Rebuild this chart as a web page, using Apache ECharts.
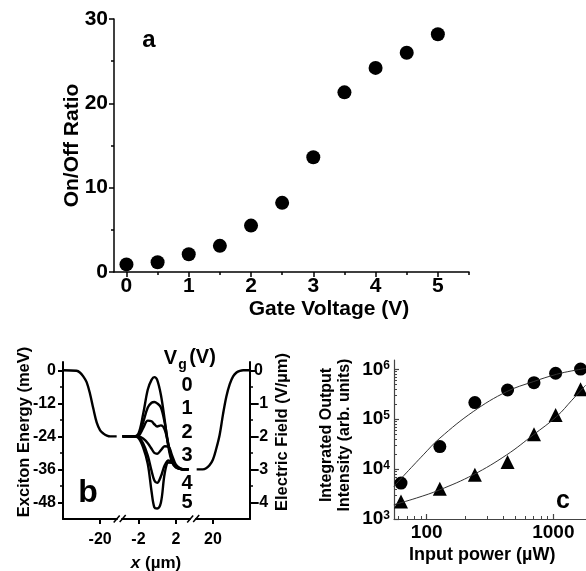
<!DOCTYPE html>
<html><head><meta charset="utf-8">
<script src="https://cdn.jsdelivr.net/npm/echarts@6/dist/echarts.min.js"></script>
<style>html,body{margin:0;padding:0;background:#fff}#c{width:586px;height:571px}</style>
</head><body><div id="c"></div>
<script>
// ---------- Panel a ----------
const gateVoltage = [0, 0.5, 1, 1.5, 2, 2.5, 3, 3.5, 4, 4.5, 5];
const onOffRatio  = [0.9, 1.15, 2.1, 3.1, 5.5, 8.2, 13.6, 21.3, 24.2, 26.0, 28.2];
const aXTicks = [0, 1, 2, 3, 4, 5];
const aXMinor = [0.5, 1.5, 2.5, 3.5, 4.5, 5.5];
const aYTicks = [0, 10, 20, 30];
const aYMinor = [5, 15, 25];

// ---------- Panel b ----------
const bLeftX  = [-31, -27, -26, -25, -24, -23, -22, -21, -20, -19, -18, -17, -15.1];
const bLeftE  = [0, -0.2, -0.8, -2.2, -4.3, -8.5, -14, -19, -21.8, -23, -23.7, -24, -24];
const bRightX = [15.2, 17, 18, 19, 20, 21, 22, 23, 24, 25, 26, 27, 28, 29, 31];
const bRightE = [-36, -36, -35.6, -34.5, -32.5, -28.5, -23.5, -16, -9.5, -5, -2.2, -0.8, -0.2, 0, 0];
const bCenterX = [-3.7, -3, -2.5, -2, -1.5, -1, -0.6, -0.3, 0, 0.4, 0.8, 1.2, 1.6, 2, 2.5, 3, 3.35];
const vgNames = ['0', '1', '2', '3', '4', '5'];
const bVg0 = [-24, -24, -24, -23, -16, -7, -3.5, -2.5, -3.5, -9, -18, -28, -33.5, -35.3, -35.9, -36, -36];
const bVg1 = [-24, -24, -24, -23.5, -19, -13.5, -11.8, -11.5, -12, -13.5, -19, -27, -33, -35.2, -35.9, -36, -36];
const bVg2 = [-24, -24, -24, -23.8, -21, -18.3, -18.5, -19.6, -20.4, -20, -21.5, -27, -32, -34.8, -35.8, -36, -36];
const bVg3 = [-24, -24, -24, -24, -24.8, -26.5, -28.5, -30, -30.3, -29, -27.6, -27.8, -31, -34.3, -35.7, -36, -36];
const bVg4 = [-24, -24, -24, -24.3, -26.5, -31, -36.5, -40, -40.9, -38.5, -34.5, -32.7, -33.5, -35, -35.8, -36, -36];
const bVg5 = [-24, -24, -24, -24.6, -28, -34, -44, -49.8, -50.2, -48, -37.5, -33.5, -33.6, -34.8, -35.8, -36, -36];
const bCurves = [bVg0, bVg1, bVg2, bVg3, bVg4, bVg5];
const bEnergyTicks = [0, -12, -24, -36, -48];
const bEnergyMinor = [-6, -18, -30, -42];
const bFieldTicks = [0, -1, -2, -3, -4];
const bFieldMinor = [-0.5, -1.5, -2.5, -3.5];
const bLeftXTicks = [-20];
const bCenterXTicks = [-2, 2];
const bRightXTicks = [20];

// ---------- Panel c ----------
const inputPower = [62.7, 127, 240, 435, 703, 1042, 1640];
const circleIntensity = [5250, 28300, 215000, 385000, 540000, 832000, 1010000];
const triangleIntensity = [2250, 4040, 7690, 13800, 50100, 122000, 398000];
const circleFitX = [55, 94, 127, 233, 428, 694, 1061, 1400, 1800];
const circleFitY = [4500, 19300, 41700, 142000, 357000, 565000, 794000, 930000, 1040000];
const triFitX = [55, 83, 127, 233, 428, 694, 1061, 1400, 1800];
const triFitY = [1930, 2630, 3850, 7700, 19300, 48500, 113000, 240000, 480000];
const cXTicks = [100, 1000];
const cXMinor = [60, 70, 80, 90, 200, 300, 400, 500, 600, 700, 800, 900, 2000];
const cYTicks = [1e3, 1e4, 1e5, 1e6];
const cYMinor = [2e3,3e3,4e3,5e3,6e3,7e3,8e3,9e3,2e4,3e4,4e4,5e4,6e4,7e4,8e4,9e4,2e5,3e5,4e5,5e5,6e5,7e5,8e5,9e5];

// ---------- layout ----------
const FONT = '"Liberation Sans", Arial, Helvetica, sans-serif';
const BLACK = '#000';
const gA = {left: 114, top: 19, width: 355, height: 253};
const bTop = 362, bH = 157;
const gBL = {left: 63, top: bTop, width: 54, height: bH};
const gBC = {left: 122, top: bTop, width: 68, height: bH};
const gBR = {left: 196, top: bTop, width: 54, height: bH};
const gC = {left: 394, top: 360, width: 197.5, height: 159};

function grid(g) {
  return Object.assign({containLabel: false, outerBoundsMode: 'none', show: false}, g);
}
function txt(size, extra) {
  return Object.assign({fontFamily: FONT, fontWeight: 'bold', fontSize: size, color: BLACK}, extra || {});
}
function mainAxis(o) {
  const a = {
    type: o.type || 'value', gridIndex: o.grid, min: o.min, max: o.max, position: o.position,
    splitLine: {show: false},
    axisLine: {show: true, onZero: false, lineStyle: {color: o.lineColor || BLACK, width: o.lineWidth || 1.5}},
    axisTick: {show: true, inside: !!o.inside, length: 5, customValues: o.ticks, lineStyle: {color: o.lineColor || BLACK, width: o.lineWidth || 1.5}},
    axisLabel: Object.assign({show: true, customValues: o.ticks, margin: o.margin, formatter: o.formatter || (v => String(v))}, txt(o.fontSize, o.labelExtra)),
  };
  if (o.name) {
    a.name = o.name; a.nameLocation = 'middle'; a.nameGap = o.nameGap; a.nameMoveOverlap = false;
    a.nameTextStyle = txt(o.nameSize, o.nameExtra);
  }
  return a;
}
function minorAxis(o) {
  return {
    type: o.type || 'value', gridIndex: o.grid, min: o.min, max: o.max, position: o.position,
    splitLine: {show: false},
    axisLine: {show: false, onZero: false},
    axisTick: {show: true, inside: !!o.inside, length: 3, customValues: o.ticks, lineStyle: {color: o.lineColor || BLACK, width: o.lineWidth || 1.5}},
    axisLabel: {show: false}
  };
}
function hiddenAxis(o) {
  return {type: 'value', gridIndex: o.grid, min: o.min, max: o.max, show: false, axisLine: {onZero: false}};
}

const supFmt = v => '{b|10}{s|' + Math.round(Math.log10(v)) + '}';

const xAxis = [
  mainAxis({grid: 0, min: -0.2, max: 5.5, position: 'bottom', ticks: aXTicks, fontSize: 21, margin: 4,
    name: 'Gate Voltage (V)', nameGap: 27, nameSize: 21, nameExtra: {padding: [0, 0, 0, 75]}}),
  minorAxis({grid: 0, min: -0.2, max: 5.5, position: 'bottom', ticks: aXMinor}),
  mainAxis({grid: 1, min: -31, max: -15, position: 'bottom', ticks: bLeftXTicks, fontSize: 16, margin: 13, lineWidth: 2}),
  mainAxis({grid: 2, min: -3.75, max: 3.5, position: 'bottom', ticks: bCenterXTicks, fontSize: 16, margin: 13, lineWidth: 2,
    name: '{i|x} (µm)', nameGap: 36, nameSize: 17,
    nameExtra: {rich: {i: {fontFamily: FONT, fontWeight: 'bold', fontStyle: 'italic', fontSize: 17, color: BLACK}}}}),
  mainAxis({grid: 3, min: 15, max: 31, position: 'bottom', ticks: bRightXTicks, fontSize: 16, margin: 13, lineWidth: 2}),
  mainAxis({type: 'log', grid: 4, min: 55.2, max: 2000, position: 'bottom', ticks: cXTicks, inside: true, fontSize: 19, margin: 4,
    lineColor: '#444', lineWidth: 1.2,
    name: 'Input power (µW)', nameGap: 27, nameSize: 18, nameExtra: {padding: [0, 21, 0, 0]}}),
  minorAxis({type: 'log', grid: 4, min: 55.2, max: 2000, position: 'bottom', ticks: cXMinor, inside: true, lineColor: '#444', lineWidth: 1})
];

const yAxis = [
  mainAxis({grid: 0, min: 0, max: 30, position: 'left', ticks: aYTicks, fontSize: 21, margin: 6,
    name: 'On/Off Ratio', nameGap: 31, nameSize: 21}),
  minorAxis({grid: 0, min: 0, max: 30, position: 'left', ticks: aYMinor}),
  mainAxis({grid: 1, min: -54, max: 3, position: 'left', ticks: bEnergyTicks, fontSize: 16, margin: 7, lineWidth: 2,
    name: 'Exciton Energy (meV)', nameGap: 30, nameSize: 16.5, nameExtra: {padding: [0, 0, 0, 17]}}),
  minorAxis({grid: 1, min: -54, max: 3, position: 'left', ticks: bEnergyMinor, lineWidth: 1.5}),
  hiddenAxis({grid: 2, min: -54, max: 3}),
  hiddenAxis({grid: 3, min: -54, max: 3}),
  mainAxis({grid: 3, min: -4.5, max: 0.25, position: 'right', ticks: bFieldTicks, fontSize: 16, margin: 4, lineWidth: 2,
    name: 'Electric Field (V/µm)', nameGap: 24, nameSize: 16.5, nameExtra: {padding: [0, 0, 0, 17]}}),
  minorAxis({grid: 3, min: -4.5, max: 0.25, position: 'right', ticks: bFieldMinor, lineWidth: 1.5}),
  mainAxis({type: 'log', grid: 4, min: 1000, max: 1.535e6, position: 'left', ticks: cYTicks, inside: true, fontSize: 19, margin: 4,
    lineColor: '#444', lineWidth: 1.2, formatter: supFmt,
    labelExtra: {rich: {b: {fontFamily: FONT, fontWeight: 'bold', fontSize: 19, color: BLACK},
                         s: {fontFamily: FONT, fontWeight: 'bold', fontSize: 12, color: BLACK, verticalAlign: 'top', lineHeight: 12}}},
    name: 'Integrated Output\nIntensity (arb. units)', nameGap: 40, nameSize: 16, nameExtra: {lineHeight: 18, padding: [0, 0, 0, 9]}}),
  minorAxis({type: 'log', grid: 4, min: 1000, max: 1.535e6, position: 'left', ticks: cYMinor, inside: true, lineColor: '#444', lineWidth: 1})
];

const zip = (xs, ys) => xs.map((x, i) => [x, ys[i]]);
const lineStyleB = {color: BLACK, width: 2.4};
const dot = {color: BLACK, opacity: 1};

const series = [
  {type: 'scatter', name: 'On/Off', xAxisIndex: 0, yAxisIndex: 0, data: zip(gateVoltage, onOffRatio),
   symbol: 'circle', symbolSize: 14, itemStyle: dot},
  {type: 'line', name: 'left', xAxisIndex: 2, yAxisIndex: 2, data: zip(bLeftX, bLeftE), showSymbol: false, smooth: 0.35, lineStyle: lineStyleB},
  {type: 'line', name: 'right', xAxisIndex: 4, yAxisIndex: 5, data: zip(bRightX, bRightE), showSymbol: false, smooth: 0.35, lineStyle: lineStyleB},
].concat(bCurves.map((c, i) => ({
  type: 'line', name: 'Vg ' + vgNames[i], xAxisIndex: 3, yAxisIndex: 4, data: zip(bCenterX, c),
  showSymbol: false, smooth: 0.35, lineStyle: lineStyleB
}))).concat([
  {type: 'line', name: 'circle fit', xAxisIndex: 5, yAxisIndex: 8, data: zip(circleFitX, circleFitY), showSymbol: false, smooth: 0.4,
   lineStyle: {color: '#333', width: 1}},
  {type: 'line', name: 'triangle fit', xAxisIndex: 5, yAxisIndex: 8, data: zip(triFitX, triFitY), showSymbol: false, smooth: 0.4,
   lineStyle: {color: '#333', width: 1}},
  {type: 'scatter', name: 'circles', xAxisIndex: 5, yAxisIndex: 8, data: zip(inputPower, circleIntensity), symbol: 'circle', symbolSize: 13,
   itemStyle: dot, clip: false},
  {type: 'scatter', name: 'triangles', xAxisIndex: 5, yAxisIndex: 8, data: zip(inputPower, triangleIntensity), symbol: 'triangle', symbolSize: 14,
   itemStyle: dot, clip: false}
]);

// decorations: axis-break slashes, panel letters, Vg legend
const graphic = [];
function slash(cx, cy) {
  graphic.push({type: 'line', shape: {x1: cx - 3, y1: cy + 3.5, x2: cx + 3, y2: cy - 3.5}, style: {stroke: BLACK, lineWidth: 1.5}});
}
const bBottom = bTop + bH;
[[gBL.left + gBL.width, gBC.left], [gBC.left + gBC.width, gBR.left]].forEach(([a, b]) => {
  const m = (a + b) / 2; slash(m - 2.8, bBottom); slash(m + 3.2, bBottom - 0.5);
});
function label(text, x, y, size, extra) {
  graphic.push({type: 'text', x: x, y: y, style: Object.assign({text: text, font: 'bold ' + size + 'px ' + FONT, fill: BLACK,
    textAlign: 'center', textVerticalAlign: 'middle', align: 'center', verticalAlign: 'middle'}, extra || {})});
}
label('a', 149, 40, 24);
label('b', 88, 493, 32);
label('c', 563, 501, 25);
label('V', 170.5, 358, 20);
label('g', 182.5, 365, 14);
label('(V)', 202.5, 357, 20);
const vgLabelY = [385, 408, 432, 455, 483, 502];
vgNames.forEach((n, i) => label(n, 187, vgLabelY[i], 20));

const chart = echarts.init(document.getElementById('c'), null, {renderer: 'canvas'});
chart.setOption({
  animation: false,
  backgroundColor: '#fff',
  grid: [grid(gA), grid(gBL), grid(gBC), grid(gBR), grid(gC)],
  xAxis: xAxis,
  yAxis: yAxis,
  series: series,
  graphic: graphic
});
</script></body></html>
